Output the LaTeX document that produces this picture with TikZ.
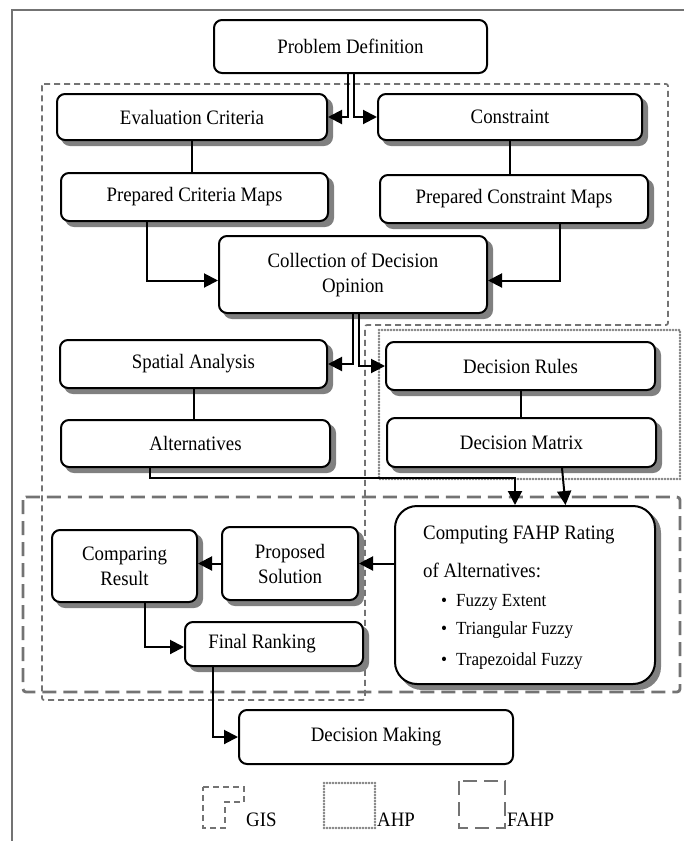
\documentclass[tikz,border=0pt]{standalone}
\usepackage{fontspec}
\setmainfont{Liberation Serif}[FakeStretch=0.92]
\usetikzlibrary{arrows.meta,calc}

\begin{document}
\begin{tikzpicture}[x=1pt,y=-1pt,
  box/.style={draw, line width=2pt, rounded corners=8pt, fill=white, align=center,
    inner sep=2pt, font=\fontsize{20.5}{25}\selectfont},
  shadowbox/.style={fill=black!50, draw=black!50, line width=2pt, rounded corners=8pt, inner sep=0pt},
  conn/.style={line width=2pt},
  arr/.style={conn, -{Triangle[length=14pt,width=14pt]}},
  gisline/.style={draw=black!55, line width=1.7pt, dash pattern=on 6pt off 4pt},
  ahpline/.style={draw=black!50, line width=2.8pt, dash pattern=on 0pt off 3pt, line cap=round},
  fahpline/.style={draw=black!55, line width=2.8pt, dash pattern=on 14pt off 7pt},
  frameline/.style={draw=black!55, line width=1.5pt},
  lbl/.style={font=\fontsize{20.5}{25}\selectfont, inner sep=0pt},
  item/.style={font=\fontsize{18.5}{22}\selectfont, inner sep=0pt, anchor=west},
]
\useasboundingbox (0,0) rectangle (684,841);

% page frame and method regions
\draw[frameline] (12,841) -- (12,10) -- (684,10);
\draw[gisline, rounded corners=2pt] (42,84) -- (668,84) -- (668,325) -- (365,325) -- (365,700) -- (42,700) -- cycle;
\draw[ahpline] (379,330) rectangle (680,479);
\draw[fahpline, rounded corners=3pt] (23,497) rectangle (680,692);

% drop shadows, 5 right and 5 below each box
\node[shadowbox, minimum width=270, minimum height=46] (ecS) at (197,122) {};
\node[shadowbox, minimum width=264, minimum height=46] (conS) at (515,122) {};
\node[shadowbox, minimum width=267, minimum height=48] (pcmS) at (199.5,202) {};
\node[shadowbox, minimum width=268, minimum height=48] (pconS) at (519,204) {};
\node[shadowbox, minimum width=268, minimum height=77] (colS) at (358,279.5) {};
\node[shadowbox, minimum width=267, minimum height=48] (saS) at (198.5,369) {};
\node[shadowbox, minimum width=269, minimum height=48] (drS) at (525.5,371) {};
\node[shadowbox, minimum width=269, minimum height=47] (altS) at (200.5,448.5) {};
\node[shadowbox, minimum width=269, minimum height=49] (dmS) at (526.5,447.5) {};
\node[shadowbox, rounded corners=22pt, minimum width=260, minimum height=178] (cfS) at (530,600) {};
\node[shadowbox, minimum width=145, minimum height=72] (crS) at (129.5,571) {};
\node[shadowbox, minimum width=136, minimum height=73] (psS) at (295,568.5) {};
\node[shadowbox, minimum width=178, minimum height=44] (frS) at (279,649) {};

% process boxes
\node[box, minimum width=273, minimum height=53] (pd) at (350.5,46.5) {Problem Definition};
\node[box, minimum width=270, minimum height=46] (ec) at (192,117) {Evaluation Criteria};
\node[box, minimum width=264, minimum height=46] (con) at (510,117) {Constraint};
\node[box, minimum width=267, minimum height=48] (pcm) at (194.5,197) {Prepared Criteria Maps};
\node[box, minimum width=268, minimum height=48] (pcon) at (514,199) {Prepared Constraint Maps};
\node[box, minimum width=268, minimum height=77] (col) at (353,274.5) {Collection of Decision\\Opinion};
\node[box, minimum width=267, minimum height=48] (sa) at (193.5,364) {Spatial Analysis};
\node[box, minimum width=269, minimum height=48] (dr) at (520.5,366) {Decision Rules};
\node[box, minimum width=269, minimum height=47] (alt) at (195.5,443.5) {Alternatives};
\node[box, minimum width=269, minimum height=49] (dm) at (521.5,442.5) {Decision Matrix};
\node[box, rounded corners=22pt, minimum width=260, minimum height=178] (cf) at (525,595) {};
\node[box, minimum width=145, minimum height=72] (cr) at (124.5,566) {Comparing\\Result};
\node[box, minimum width=136, minimum height=73] (ps) at (290,563.5) {Proposed\\Solution};
\node[box, minimum width=178, minimum height=44] (fr) at (274,644) {Final Ranking\hspace*{24pt}};
\node[box, minimum width=274, minimum height=54] (dmk) at (376,737) {Decision Making};

% contents of the FAHP rating box
\node[lbl, anchor=west] (cft1) at (423,535) {Computing FAHP Rating};
\node[lbl, anchor=west] (cft2) at (423,570) {of Alternatives:};
\node[item] (b1) at (441,602) {•\hspace{9pt}Fuzzy Extent};
\node[item] (b2) at (441,630) {•\hspace{9pt}Triangular Fuzzy};
\node[item] (b3) at (441,661) {•\hspace{9pt}Trapezoidal Fuzzy};

% connectors
\draw[arr] ([xshift=-3pt]pd.south) |- (ec.east);
\draw[arr] ([xshift=3pt]pd.south) |- (con.west);
\draw[conn] (ec.south) -- (ec.south |- pcm.north);
\draw[conn] (con.south) -- (con.south |- pcon.north);
\draw[arr] ([xshift=-47.5pt]pcm.south) |- ([yshift=-6pt]col.west);
\draw[arr] ([xshift=46pt]pcon.south) |- ([yshift=-6pt]col.east);
\draw[arr] ([xshift=0pt]col.south) |- (sa.east);
\draw[arr] ([xshift=6pt]col.south) |- (dr.west);
\draw[conn] (sa.south) -- (sa.south |- alt.north);
\draw[conn] (dr.south) -- (dr.south |- dm.north);
\coordinate (j1) at (150,478);
\draw[arr] ([xshift=-45.5pt]alt.south) -- (j1) -| ([xshift=-10pt]cf.north);
\draw[arr] ([xshift=40.5pt]dm.south) -- ([xshift=40.5pt]cf.north);
\draw[arr] (cf.west |- ps.east) -- (ps.east);
\draw[arr] (ps.west) -- (cr.east |- ps.west);
\draw[arr] ([xshift=20.5pt]cr.south) |- ([yshift=-3pt]fr.west);
\draw[arr] ([xshift=-61pt]fr.south) |- (dmk.west);

% legend
\draw[gisline] (203,787) -- (244,787) -- (244,802) -- (225,802) -- (225,828) -- (203,828) -- cycle;
\node[lbl, anchor=west] (lgis) at (246,820) {GIS};
\draw[ahpline] (324,783) rectangle (375,828);
\node[lbl, anchor=west] (lahp) at (377,820) {AHP};
\draw[fahpline] (459,781) rectangle (505,828);
\node[lbl, anchor=west] (lfahp) at (507,820) {FAHP};
\end{tikzpicture}
\end{document}
